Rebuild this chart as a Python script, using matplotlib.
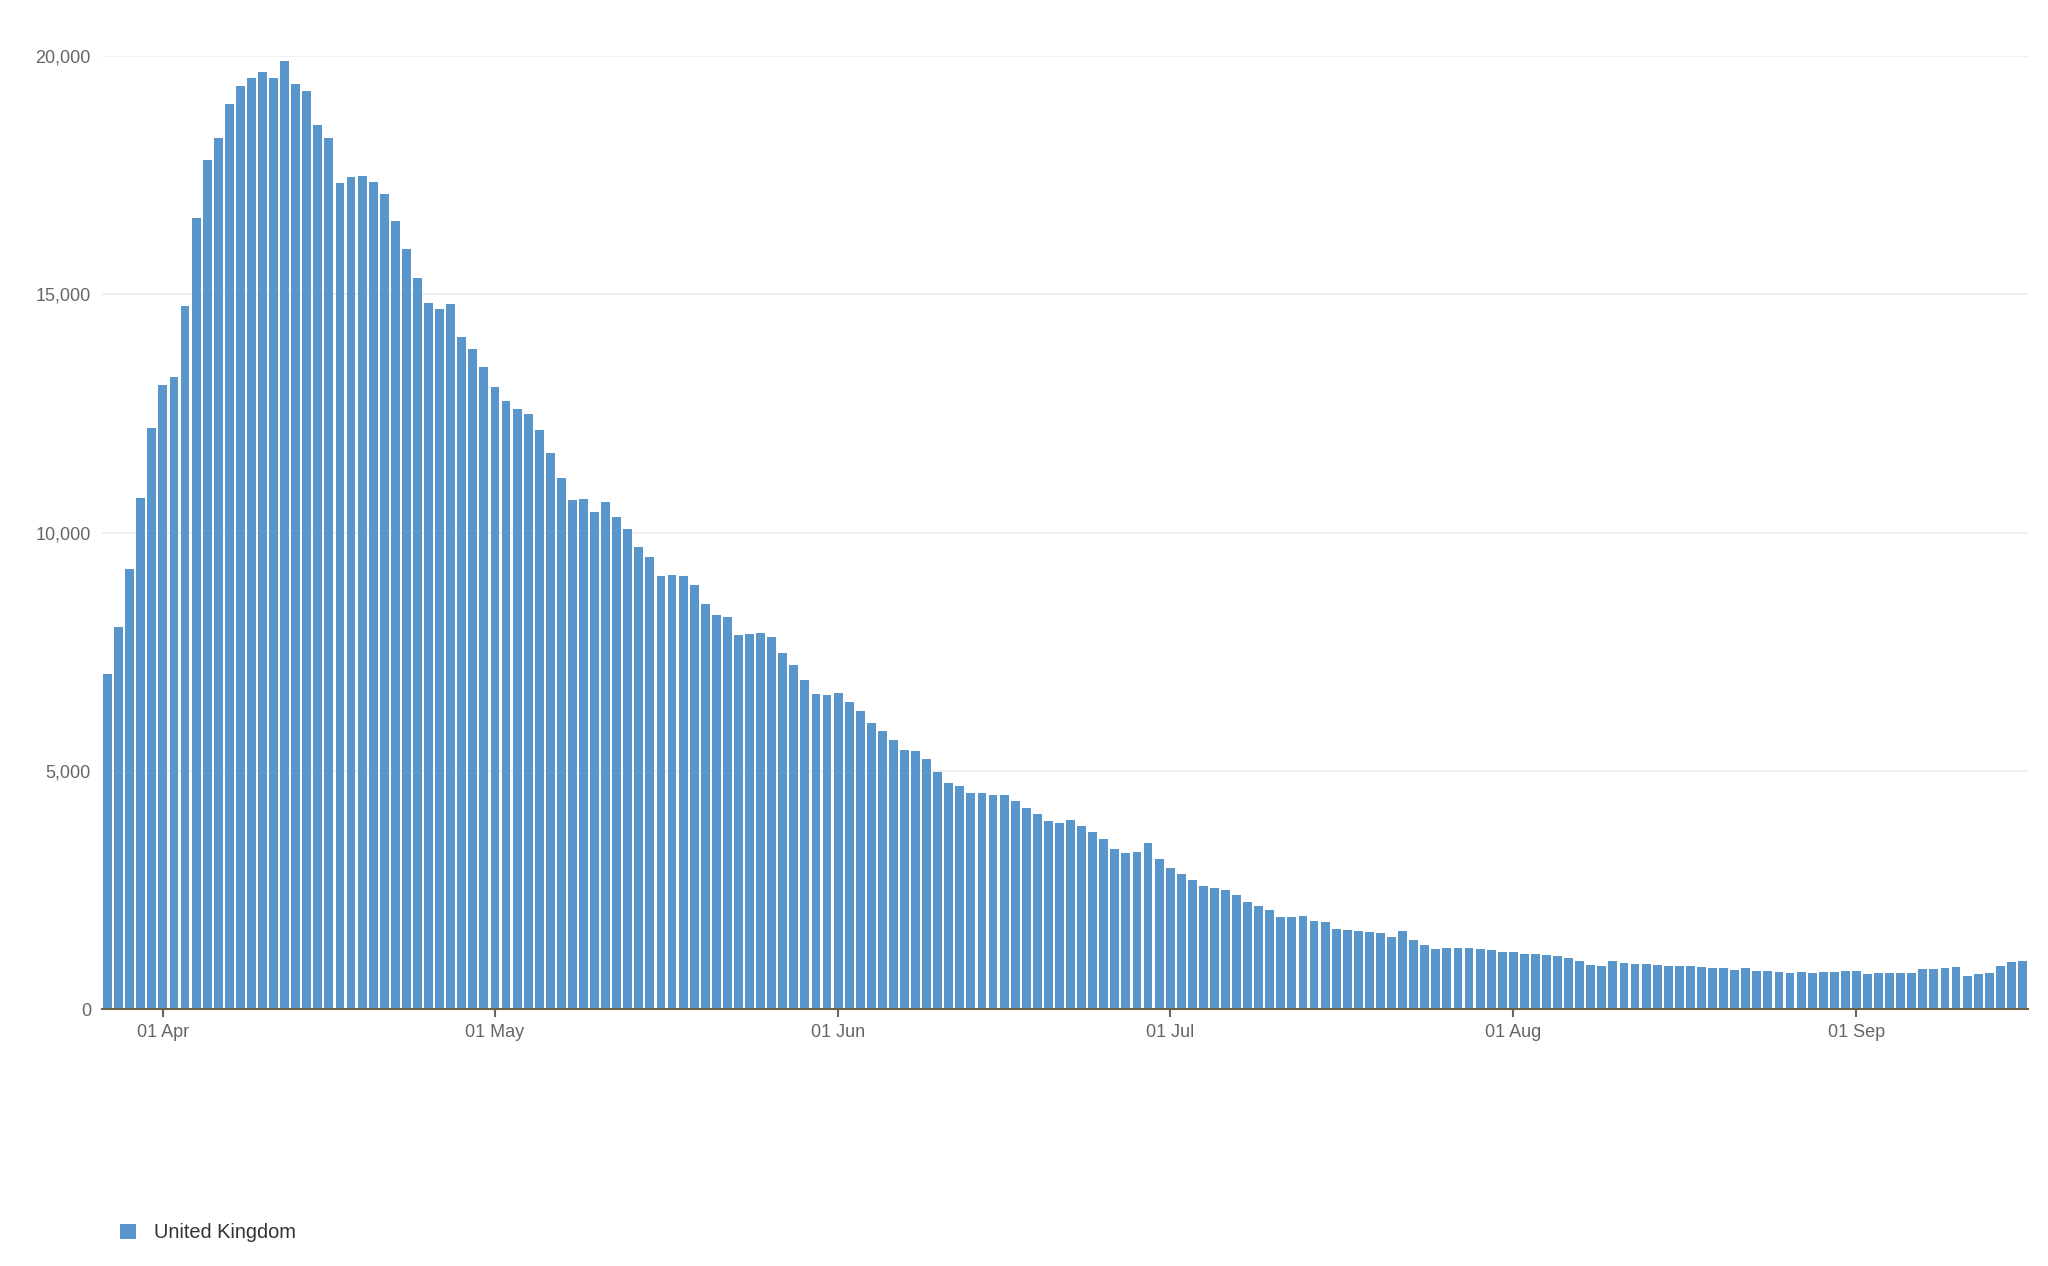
import matplotlib
matplotlib.use("Agg")
import matplotlib.pyplot as plt
import matplotlib.dates as mdates
import pandas as pd

start_date = "2020-03-27"
values = [
    7040, 8010, 9230, 10730, 12200, 13100, 13270, 14750, 16610, 17810,
    18280, 18990, 19360, 19530, 19670, 19530, 19890, 19410, 19260, 18560,
    18280, 17330, 17470, 17480, 17360, 17110, 16530, 15960, 15350, 14810,
    14700, 14790, 14110, 13860, 13480, 13050, 12760, 12600, 12490, 12150,
    11670, 11150, 10680, 10700, 10430, 10650, 10330, 10070, 9690, 9480,
    9090, 9110, 9080, 8890, 8500, 8260, 8220, 7855, 7865,
    7895, 7797, 7476, 7211, 6911, 6618, 6584, 6632, 6451, 6249,
    5998, 5844, 5635, 5433, 5412, 5237, 4972, 4742, 4673, 4526,
    4526, 4491, 4491, 4359, 4219, 4087, 3940, 3905, 3960,
    3836, 3724, 3577, 3359, 3275, 3303, 3485, 3142, 2959, 2840,
    2714, 2588, 2546, 2490, 2391, 2251, 2167, 2083, 1936, 1936,
    1957, 1851, 1823, 1683, 1662, 1641, 1613, 1592, 1505, 1640,
    1442, 1351, 1267, 1288, 1274, 1274, 1253, 1232, 1190, 1204,
    1162, 1162, 1127, 1106, 1078, 1001, 931, 896, 1001, 959,
    938, 938, 931, 910, 910, 910, 889, 854, 850,
    819, 868, 805, 805, 784, 763, 777, 756, 784, 784,
    805, 805, 742, 763, 763, 763, 763, 847, 840, 868,
    889, 700, 735, 763, 896, 987, 1015,
]
dates = pd.date_range(start_date, periods=len(values), freq="D")
series_name = "United Kingdom"
y_ticks = [0, 5000, 10000, 15000, 20000]

BAR = "#5996cc"
W, H = 2048, 1266
fig = plt.figure(figsize=(W / 100, H / 100), dpi=100)
ax = fig.add_axes([102 / W, 1 - 1009 / H, (2028 - 102) / W, (1009 - 56) / H])

plt.rcParams["font.family"] = ["Liberation Sans", "DejaVu Sans"]

bars = ax.bar(dates, values, width=0.8, color=BAR, zorder=2, label=series_name)

ax.set_xlim(dates[0] - pd.Timedelta(hours=12), dates[-1] + pd.Timedelta(hours=12))
ax.set_ylim(0, 20000)
ax.set_yticks(y_ticks)
ax.set_yticklabels([f"{v:,}" for v in y_ticks])
ax.xaxis.set_major_locator(mdates.MonthLocator(bymonthday=1))
ax.xaxis.set_major_formatter(mdates.DateFormatter("%d %b"))

for s in ["top", "right", "left"]:
    ax.spines[s].set_visible(False)
ax.spines["bottom"].set_color("#6b6347")
ax.spines["bottom"].set_linewidth(1.5)
ax.spines["bottom"].set_zorder(3)

ax.grid(axis="y", color="#efefef", linewidth=1.3, zorder=0)
ax.set_axisbelow(True)

ax.tick_params(axis="y", length=0, pad=8, labelsize=13, labelcolor="#666666")
ax.tick_params(axis="x", length=6, width=1.5, color="#666666", pad=5,
               labelsize=13, labelcolor="#666666")
for lab in ax.get_xticklabels() + ax.get_yticklabels():
    lab.set_fontfamily(["Liberation Sans", "DejaVu Sans"])

leg = fig.legend(handles=[bars], labels=[series_name], loc="center left",
                 bbox_to_anchor=(120 / W, 1 - 1233 / H), frameon=False,
                 borderpad=0, borderaxespad=0, handlelength=0.8, handleheight=0.8,
                 handletextpad=0.9, prop={"family": ["Liberation Sans", "DejaVu Sans"], "size": 14.4})
for t in leg.get_texts():
    t.set_color("#333333")

fig.savefig("out.png", dpi=100, facecolor="white")
